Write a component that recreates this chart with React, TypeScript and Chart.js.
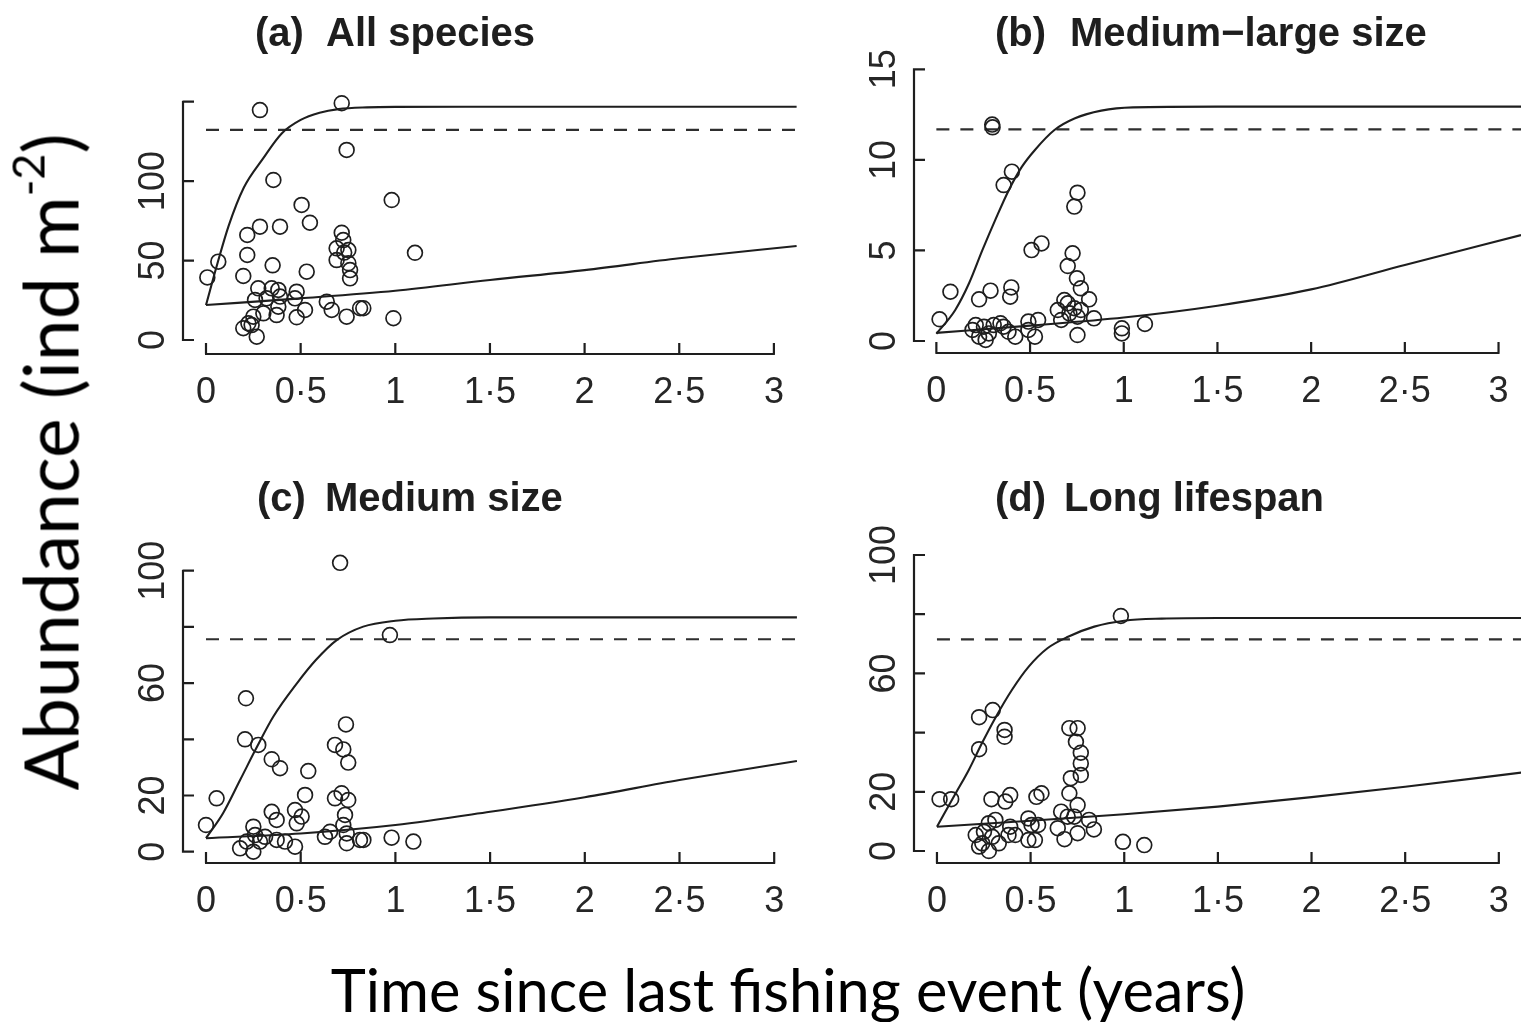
import React, { useEffect, useRef } from "react";
import { Chart, registerables } from "chart.js";

Chart.register(...registerables);

// ---------- shared x axis ----------
const xTickValues = [0, 0.5, 1, 1.5, 2, 2.5, 3];
const xTickLabels = ["0", "0·5", "1", "1·5", "2", "2·5", "3"];

// ---------- (a) All species ----------
const aObsX = [0.285, 0.717, 0.743, 0.356, 0.981, 0.505, 0.549, 0.285, 0.391, 0.218, 1.104, 0.065, 0.218, 0.007, 0.197, 0.352, 0.532, 0.717, 0.725, 0.69, 0.752, 0.73, 0.69, 0.752, 0.761, 0.761, 0.276, 0.347, 0.382, 0.479, 0.47, 0.523, 0.479, 0.373, 0.382, 0.32, 0.259, 0.303, 0.25, 0.224, 0.197, 0.268, 0.241, 0.638, 0.664, 0.743, 0.814, 0.831, 0.99, 0.391];
const aObsY = [144.7, 149, 119.6, 100.7, 88.1, 85, 73.8, 71.3, 71.3, 66.1, 54.9, 49.3, 53.5, 39.4, 40.3, 47, 43, 67.5, 62.9, 57.7, 56.6, 55, 50.3, 48.3, 44, 38.8, 32.5, 32.5, 31.5, 30.4, 26.2, 18.9, 14.3, 15.7, 21, 26.2, 25.2, 16.8, 14.7, 10.5, 7.4, 2.1, 9.4, 24.1, 18.9, 14.7, 20, 20, 13.7, 27.3];
const aUpperX = [0, 0.06, 0.12, 0.2, 0.3, 0.4, 0.5, 0.6, 0.7, 0.85, 1.0, 1.5, 2.0, 2.5, 3.12];
const aUpperY = [22, 48, 72, 96, 114, 130, 138.5, 143, 145.3, 146.4, 146.7, 146.8, 146.8, 146.8, 146.8];
const aLowerX = [0, 0.5, 1.0, 1.5, 2.0, 2.5, 3.12];
const aLowerY = [22, 26.2, 31, 37.8, 44, 51.4, 59.2];
const aDashedX = [0, 3.12];
const aDashedY = [132.2, 132.2];
const aYTicks = [0, 50, 100, 150];
const aYTickLabels = ["0", "50", "100", ""];

// ---------- (b) Medium-large size ----------
const bObsX = [0.298, 0.3, 0.403, 0.359, 0.753, 0.736, 0.561, 0.508, 0.727, 0.701, 0.75, 0.771, 0.815, 0.075, 0.289, 0.4, 0.394, 0.228, 0.017, 0.193, 0.228, 0.254, 0.28, 0.306, 0.21, 0.263, 0.359, 0.385, 0.421, 0.342, 0.491, 0.543, 0.526, 0.491, 0.648, 0.666, 0.701, 0.736, 0.753, 0.71, 0.771, 0.841, 0.753, 0.683, 0.99, 0.99, 1.113];
const bObsY = [11.95, 11.8, 9.35, 8.61, 8.19, 7.42, 5.39, 5.02, 4.84, 4.14, 3.46, 2.91, 2.3, 2.72, 2.78, 2.96, 2.45, 2.3, 1.2, 0.61, 0.24, 0.79, 0.42, 0.88, 0.88, 0.06, 0.79, 0.51, 0.24, 0.98, 1.07, 1.16, 0.24, 0.61, 1.71, 1.16, 2.08, 1.81, 1.34, 1.53, 1.71, 1.25, 0.33, 2.26, 0.7, 0.42, 0.94];
const bUpperX = [0, 0.1, 0.175, 0.245, 0.315, 0.385, 0.455, 0.526, 0.63, 0.74, 0.88, 1.05, 1.5, 2, 2.5, 3.12];
const bUpperY = [0.4, 1.7, 3.2, 5.0, 6.7, 8.3, 9.6, 10.55, 11.65, 12.3, 12.72, 12.9, 12.94, 12.94, 12.94, 12.94];
const bLowerX = [0, 0.5, 1.0, 1.5, 2.0, 2.5, 3.12];
const bLowerY = [0.45, 0.85, 1.3, 1.95, 2.85, 4.2, 5.85];
const bDashedX = [0, 3.12];
const bDashedY = [11.69, 11.69];
const bYTicks = [0, 5, 10, 15];
const bYTickLabels = ["0", "5", "10", "15"];

// ---------- (c) Medium size ----------
const cObsX = [0.708, 0.971, 0.211, 0.206, 0.276, 0.739, 0.681, 0.725, 0.751, 0.347, 0.391, 0.54, 0.056, 0, 0.523, 0.681, 0.716, 0.751, 0.734, 0.725, 0.347, 0.373, 0.47, 0.505, 0.479, 0.25, 0.259, 0.215, 0.18, 0.25, 0.285, 0.373, 0.417, 0.47, 0.628, 0.655, 0.743, 0.743, 0.813, 0.831, 0.98, 1.095, 0.312];
const cObsY = [102.8, 77.1, 54.6, 40, 38, 45.3, 38, 36.4, 31.7, 32.9, 29.7, 28.7, 19, 9.5, 20.2, 19, 20.8, 18.4, 13.1, 9.5, 14.2, 11.3, 14.8, 12.5, 10.1, 8.9, 5.9, 3.6, 1.2, 0, 3.6, 4.2, 3.6, 1.8, 5.3, 7.1, 6.5, 3.0, 4.2, 4.2, 5, 3.6, 5.3];
const cUpperX = [0, 0.09, 0.18, 0.27, 0.355, 0.48, 0.58, 0.69, 0.83, 1.0, 1.2, 1.5, 2, 2.5, 3.12];
const cUpperY = [4.8, 13.7, 25.5, 37.4, 48, 59.9, 68.2, 75.3, 80.1, 82.2, 83.0, 83.4, 83.4, 83.4, 83.4];
const cLowerX = [0, 0.5, 1.0, 1.5, 2.0, 2.5, 3.12];
const cLowerY = [4.8, 6.5, 9.5, 14.2, 19.4, 25.5, 32.3];
const cDashedX = [0, 3.12];
const cDashedY = [75.6, 75.6];
const cYTicks = [0, 20, 40, 60, 80, 100];
const cYTickLabels = ["0", "20", "", "60", "", "100"];

// ---------- (d) Long lifespan ----------
const dObsX = [0.982, 0.225, 0.298, 0.361, 0.361, 0.225, 0.707, 0.751, 0.742, 0.768, 0.768, 0.768, 0.715, 0.707, 0.014, 0.076, 0.291, 0.365, 0.391, 0.531, 0.558, 0.751, 0.663, 0.698, 0.733, 0.812, 0.838, 0.645, 0.681, 0.751, 0.207, 0.242, 0.277, 0.277, 0.312, 0.295, 0.251, 0.225, 0.33, 0.382, 0.391, 0.418, 0.488, 0.505, 0.488, 0.523, 0.54, 0.993, 1.107];
const dObsY = [79.4, 45.2, 47.6, 40.9, 38.6, 34.4, 41.5, 41.5, 36.9, 33.2, 29.6, 25.7, 24.6, 19.5, 17.5, 17.5, 17.5, 16.7, 18.9, 18.3, 19.5, 15.5, 13.3, 11.6, 11.6, 10.5, 7.3, 7.7, 4, 6, 5.4, 2.6, 0, 9.4, 10.5, 4.8, 6.5, 1.5, 2.6, 5.4, 8.2, 5.4, 11, 8.8, 3.7, 3.7, 8.8, 3.1, 2.0];
const dUpperX = [0, 0.1, 0.17, 0.24, 0.31, 0.4, 0.49, 0.59, 0.7, 0.84, 1.0, 1.2, 1.5, 2, 2.5, 3.12];
const dUpperY = [8.2, 19.5, 27.4, 36.4, 44.8, 54.4, 62.3, 68.5, 72.4, 75.8, 77.8, 78.5, 78.7, 78.7, 78.7, 78.7];
const dLowerX = [0, 0.5, 1.0, 1.5, 2.0, 2.5, 3.12];
const dLowerY = [8.2, 10.2, 12.4, 15.0, 18.2, 21.7, 26.5];
const dDashedX = [0, 3.12];
const dDashedY = [71.5, 71.5];
const dYTicks = [0, 20, 40, 60, 80, 100];
const dYTickLabels = ["0", "20", "", "60", "", "100"];

type PanelSpec = {
  id: string;
  label: string;
  title: string;
  box: { left: number; top: number; width: number; height: number };
  area: { l: number; r: number; t: number; b: number };
  x0: number; xs: number; y0: number; ys: number;
  obsX: number[]; obsY: number[];
  upX: number[]; upY: number[];
  loX: number[]; loY: number[];
  dashX: number[]; dashY: number[];
  yTicks: number[]; yLabels: string[];
  labelX: number; titleX: number; titleBase: number;
};

const panels: PanelSpec[] = [
  {
    id: "a", label: "(a)", title: "All species",
    box: { left: 0, top: 0, width: 850, height: 470 },
    area: { l: 183, r: 797, t: 89, b: 354 },
    x0: 206, xs: 189.3, y0: 340, ys: 1.589,
    obsX: aObsX, obsY: aObsY, upX: aUpperX, upY: aUpperY, loX: aLowerX, loY: aLowerY,
    dashX: aDashedX, dashY: aDashedY, yTicks: aYTicks, yLabels: aYTickLabels,
    labelX: 255, titleX: 326, titleBase: 46,
  },
  {
    id: "b", label: "(b)", title: "Medium\u2212large size",
    box: { left: 850, top: 0, width: 680, height: 470 },
    area: { l: 914, r: 1530, t: 60, b: 353 },
    x0: 936.7, xs: 190.2, y0: 341, ys: 18.11,
    obsX: bObsX, obsY: bObsY, upX: bUpperX, upY: bUpperY, loX: bLowerX, loY: bLowerY,
    dashX: bDashedX, dashY: bDashedY, yTicks: bYTicks, yLabels: bYTickLabels,
    labelX: 995, titleX: 1070, titleBase: 46,
  },
  {
    id: "c", label: "(c)", title: "Medium size",
    box: { left: 0, top: 470, width: 850, height: 480 },
    area: { l: 183, r: 797, t: 550, b: 863 },
    x0: 206, xs: 189.4, y0: 851.7, ys: 2.81,
    obsX: cObsX, obsY: cObsY, upX: cUpperX, upY: cUpperY, loX: cLowerX, loY: cLowerY,
    dashX: cDashedX, dashY: cDashedY, yTicks: cYTicks, yLabels: cYTickLabels,
    labelX: 257, titleX: 325, titleBase: 511,
  },
  {
    id: "d", label: "(d)", title: "Long lifespan",
    box: { left: 850, top: 470, width: 680, height: 480 },
    area: { l: 914, r: 1530, t: 545, b: 863 },
    x0: 937.3, xs: 190.1, y0: 851, ys: 2.96,
    obsX: dObsX, obsY: dObsY, upX: dUpperX, upY: dUpperY, loX: dLowerX, loY: dLowerY,
    dashX: dDashedX, dashY: dDashedY, yTicks: dYTicks, yLabels: dYTickLabels,
    labelX: 995, titleX: 1064, titleBase: 511,
  },
];

const INK = "#1e1e1e";

function Panel({ spec }: { spec: PanelSpec }) {
  const ref = useRef<HTMLCanvasElement>(null);
  const { box } = spec;

  useEffect(() => {
    const canvas = ref.current;
    if (!canvas) return;
    const { area, x0, xs, y0, ys } = spec;
    const xmin = (area.l - x0) / xs;
    const xmax = (area.r - x0) / xs;
    const ymin = (y0 - area.b) / ys;
    const ymax = (y0 - area.t) / ys;
    const toXY = (xa: number[], ya: number[]) => xa.map((x, i) => ({ x, y: ya[i] }));

    const axesPlugin = {
      id: "rAxes",
      afterDraw(chart: any) {
        const ctx = chart.ctx as CanvasRenderingContext2D;
        const xS = chart.scales.x;
        const yS = chart.scales.y;
        const ca = chart.chartArea;
        ctx.save();
        ctx.strokeStyle = INK;
        ctx.lineWidth = 2.2;
        ctx.lineCap = "butt";
        ctx.beginPath();
        // x axis (R style, spanning the tick range, ticks pointing inward)
        const yb = ca.bottom;
        ctx.moveTo(xS.getPixelForValue(xTickValues[0]) - 1, yb);
        ctx.lineTo(xS.getPixelForValue(xTickValues[xTickValues.length - 1]) + 1, yb);
        xTickValues.forEach((v) => {
          const px = xS.getPixelForValue(v);
          ctx.moveTo(px, yb);
          ctx.lineTo(px, yb - 11);
        });
        // y axis
        const xl = ca.left;
        ctx.moveTo(xl, yS.getPixelForValue(spec.yTicks[0]) + 1);
        ctx.lineTo(xl, yS.getPixelForValue(spec.yTicks[spec.yTicks.length - 1]) - 1);
        spec.yTicks.forEach((v) => {
          const py = yS.getPixelForValue(v);
          ctx.moveTo(xl, py);
          ctx.lineTo(xl + 11, py);
        });
        ctx.stroke();

        // tick labels
        ctx.fillStyle = "#262626";
        ctx.font = '36px "Liberation Sans", Arial, sans-serif';
        ctx.textAlign = "center";
        ctx.textBaseline = "alphabetic";
        xTickValues.forEach((v, i) => {
          ctx.fillText(xTickLabels[i], xS.getPixelForValue(v), yb + 49);
        });
        spec.yTicks.forEach((v, i) => {
          const lab = spec.yLabels[i];
          if (!lab) return;
          ctx.save();
          ctx.translate(xl - 19, yS.getPixelForValue(v));
          ctx.rotate(-Math.PI / 2);
          ctx.fillText(lab, 0, 0);
          ctx.restore();
        });

        // panel title
        ctx.fillStyle = INK;
        ctx.font = 'bold 40px "Liberation Sans", Arial, sans-serif';
        ctx.textAlign = "left";
        ctx.fillText(spec.label, spec.labelX - box.left, spec.titleBase - box.top);
        ctx.fillText(spec.title, spec.titleX - box.left, spec.titleBase - box.top);
        ctx.restore();
      },
    };

    const chart = new Chart(canvas, {
      type: "scatter",
      data: {
        datasets: [
          {
            type: "scatter",
            data: toXY(spec.obsX, spec.obsY),
            pointRadius: 7.4,
            pointHoverRadius: 7.4,
            pointBorderWidth: 1.7,
            pointBorderColor: INK,
            pointBackgroundColor: "rgba(0,0,0,0)",
            borderColor: INK,
            backgroundColor: "rgba(0,0,0,0)",
          } as any,
          {
            type: "line",
            data: toXY(spec.upX, spec.upY),
            borderColor: INK,
            borderWidth: 2.1,
            pointRadius: 0,
            cubicInterpolationMode: "monotone",
            fill: false,
          } as any,
          {
            type: "line",
            data: toXY(spec.loX, spec.loY),
            borderColor: INK,
            borderWidth: 2.1,
            pointRadius: 0,
            cubicInterpolationMode: "monotone",
            fill: false,
          } as any,
          {
            type: "line",
            data: toXY(spec.dashX, spec.dashY),
            borderColor: "#2e2e2e",
            borderWidth: 2.2,
            borderDash: [13, 11],
            pointRadius: 0,
            fill: false,
          } as any,
        ],
      },
      options: {
        responsive: false,
        animation: false,
        events: [],
        layout: {
          padding: {
            left: area.l - box.left,
            right: box.left + box.width - area.r,
            top: area.t - box.top,
            bottom: box.top + box.height - area.b,
          },
        },
        plugins: {
          legend: { display: false },
          tooltip: { enabled: false },
          title: { display: false },
        },
        scales: {
          x: { type: "linear", min: xmin, max: xmax, display: false },
          y: { type: "linear", min: ymin, max: ymax, display: false },
        },
      },
      plugins: [axesPlugin],
    } as any);

    return () => chart.destroy();
  }, [spec]);

  return (
    <canvas
      ref={ref}
      width={box.width}
      height={box.height}
      style={{ position: "absolute", left: box.left, top: box.top, width: box.width, height: box.height }}
    />
  );
}

export default function App() {
  return (
    <div
      style={{
        position: "absolute",
        left: 0,
        top: 0,
        width: 1529,
        height: 1022,
        overflow: "hidden",
        background: "#ffffff",
      }}
    >
      {panels.map((p) => (
        <Panel key={p.id} spec={p} />
      ))}
      <div
        style={{
          position: "absolute",
          left: 50,
          top: 462,
          transform: "translate(-50%, -50%) rotate(-90deg)",
          whiteSpace: "nowrap",
          fontFamily: "Lato, 'Open Sans', sans-serif",
          fontSize: 75,
          lineHeight: 1,
          color: "#000",
        }}
      >
        Abundance (ind m<span style={{ fontSize: "0.6em", position: "relative", top: "-0.75em" }}>-2</span>)
      </div>
      <div
        style={{
          position: "absolute",
          left: 788,
          top: 990,
          transform: "translate(-50%, -50%)",
          whiteSpace: "nowrap",
          fontFamily: "Lato, 'Open Sans', sans-serif",
          fontSize: 59.5,
          lineHeight: 1,
          color: "#000",
        }}
      >
        Time since last fishing event (years)
      </div>
    </div>
  );
}
